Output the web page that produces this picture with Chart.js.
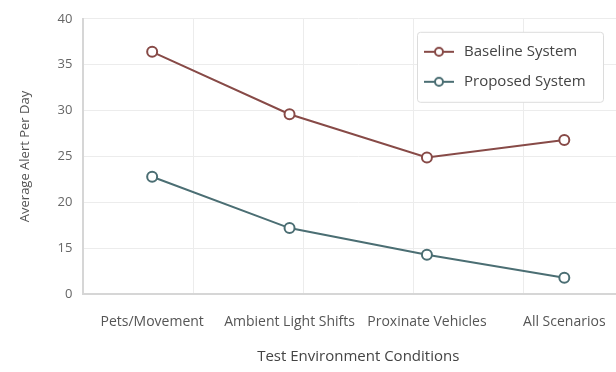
<!DOCTYPE html>
<html>
<head>
<meta charset="utf-8">
<script src="https://cdn.jsdelivr.net/npm/chart.js@4.4.1/dist/chart.umd.min.js"></script>
<style>
  html, body { margin: 0; padding: 0; background: #ffffff; overflow: hidden; }
  #wrap { width: 640px; height: 372px; }
</style>
</head>
<body>
<div id="wrap"><canvas id="chart" width="640" height="372"></canvas></div>
<script>
// Alert frequency per test environment
const categories = ['Pets/Movement', 'Ambient Light Shifts', 'Proxinate Vehicles', 'All Scenarios'];
const baselineValues = [36.4, 29.6, 24.9, 26.8];
const proposedValues = [22.8, 17.2, 14.3, 11.8];
const yTickValues = [10, 15, 20, 25, 30, 35, 40];
const yTickLabels = ['0', '15', '20', '25', '30', '35', '40'];
const seriesNames = ['Baseline System', 'Proposed System'];

const baselineColor = '#874a47';
const proposedColor = '#4b6e73';
const FONT = '"Open Sans", "Noto Sans", sans-serif';

// Legend swatch: short line with a hollow circle
function swatch(color) {
  const c = document.createElement('canvas');
  c.width = 32; c.height = 12;
  const g = c.getContext('2d');
  g.strokeStyle = color; g.lineWidth = 2;
  g.beginPath(); g.moveTo(1, 6); g.lineTo(31, 6); g.stroke();
  g.fillStyle = '#fff';
  g.beginPath(); g.arc(16, 6, 4, 0, Math.PI * 2); g.fill(); g.stroke();
  return c;
}

const boxedLegend = {
  id: 'boxedLegend',
  afterDatasetsDraw(chart) {
    const { ctx, chartArea } = chart;
    const w = 186, h = 70;
    const x = chartArea.right - 30 - w;
    const y = chartArea.top + 13;
    ctx.save();
    ctx.fillStyle = '#ffffff';
    ctx.strokeStyle = '#dcdcdc';
    ctx.lineWidth = 1;
    ctx.beginPath();
    ctx.roundRect(x + 0.5, y + 0.5, w, h, 3);
    ctx.fill(); ctx.stroke();
    ctx.font = '15px ' + FONT;
    ctx.fillStyle = '#444';
    ctx.textBaseline = 'middle';
    chart.data.datasets.forEach((ds, i) => {
      const rowY = y + 20 + i * 30;
      ctx.drawImage(swatch(ds.borderColor), x + 6, rowY - 6);
      ctx.fillText(ds.label, x + 47, rowY);
    });
    ctx.restore();
  }
};

new Chart(document.getElementById('chart'), {
  type: 'line',
  data: {
    labels: categories,
    datasets: [
      {
        label: seriesNames[0],
        data: baselineValues,
        borderColor: baselineColor,
        backgroundColor: '#ffffff',
        pointBackgroundColor: '#ffffff',
        pointBorderColor: baselineColor,
        borderWidth: 2,
        pointRadius: 5,
        pointBorderWidth: 2,
        tension: 0
      },
      {
        label: seriesNames[1],
        data: proposedValues,
        borderColor: proposedColor,
        backgroundColor: '#ffffff',
        pointBackgroundColor: '#ffffff',
        pointBorderColor: proposedColor,
        borderWidth: 2,
        pointRadius: 5,
        pointBorderWidth: 2,
        tension: 0
      }
    ]
  },
  options: {
    responsive: false,
    animation: false,
    layout: { padding: { left: 17, right: 6, top: 15, bottom: 6 } },
    plugins: {
      legend: { display: false },
      tooltip: { enabled: false }
    },
    scales: {
      x: {
        type: 'category',
        offset: true,
        grid: { display: false },
        border: { display: true, color: '#d6d6d6', width: 2 },
        ticks: { color: '#555', font: { family: FONT, size: 14 }, padding: 11, maxRotation: 0, autoSkip: false },
        title: { display: true, text: 'Test Environment Conditions', color: '#444', font: { family: FONT, size: 15 }, padding: { top: 7, bottom: 0 } }
      },
      xGrid: {
        type: 'linear',
        position: 'top',
        min: 0, max: 5,
        ticks: { display: false, stepSize: 1 },
        grid: { color: '#ececec', drawTicks: false, lineWidth: 1 },
        border: { display: false }
      },
      y: {
        min: 10, max: 40,
        afterBuildTicks(scale) { scale.ticks = yTickValues.map(v => ({ value: v })); },
        ticks: {
          color: '#666',
          font: { family: FONT, size: 13 },
          padding: 11,
          callback: (v) => yTickLabels[yTickValues.indexOf(v)]
        },
        grid: { color: '#ececec', drawTicks: false },
        border: { display: true, color: '#d6d6d6', width: 2 },
        title: { display: true, text: 'Average Alert Per Day', color: '#555', font: { family: FONT, size: 13 }, padding: { top: 0, bottom: 14 } }
      }
    }
  },
  plugins: [boxedLegend]
});
</script>
</body>
</html>
